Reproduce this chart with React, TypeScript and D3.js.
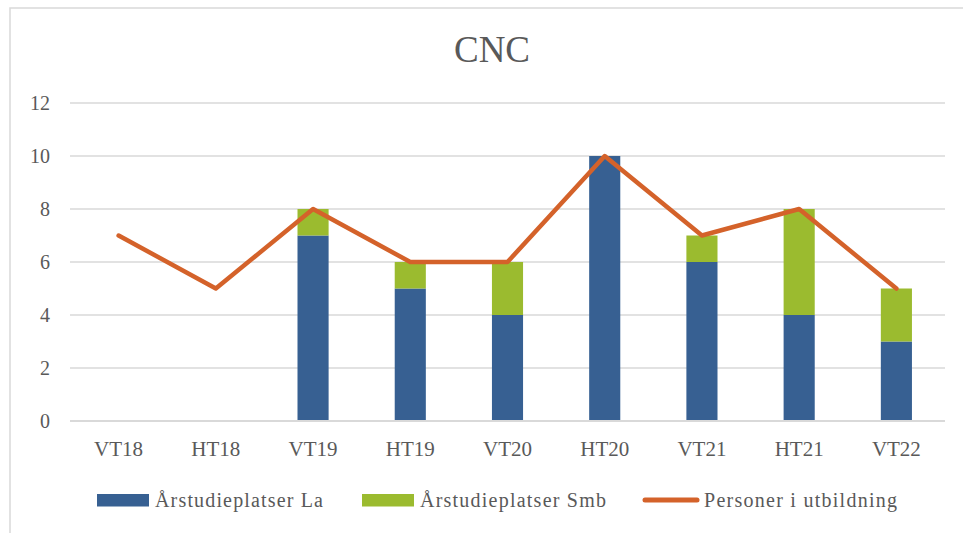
import * as d3 from "d3";

const categories = ["VT18", "HT18", "VT19", "HT19", "VT20", "HT20", "VT21", "HT21", "VT22"];
const laValues = [0, 0, 7, 5, 4, 10, 6, 4, 3];
const smbValues = [0, 0, 1, 1, 2, 0, 1, 4, 2];
const personerValues = [7, 5, 8, 6, 6, 10, 7, 8, 5];
const yTicks = [0, 2, 4, 6, 8, 10, 12];

const W = 963;
const H = 533;
const left = 70;
const right = 945;
const top = 103;
const bottom = 421;

const BLUE = "#376092";
const GREEN = "#9BBB2F";
const ORANGE = "#D4622A";
const TEXT = "#595959";
const GRID = "#D9D9D9";
const FONT = "'Liberation Serif', 'Times New Roman', serif";

export default function App() {
  const x = d3.scaleBand<string>().domain(categories).range([left, right]).paddingInner(0.68).paddingOuter(0.34);
  const y = d3.scaleLinear().domain([0, 12]).range([bottom, top]);
  const cx = (c: string) => (x(c) ?? 0) + x.bandwidth() / 2;

  const line = d3
    .line<number>()
    .x((_, i) => cx(categories[i]))
    .y((d) => y(d));

  return (
    <svg
      width={W}
      height={H}
      style={{ position: "absolute", left: 0, top: 0, background: "#fff" }}
      fontFamily={FONT}
    >
      <rect x={10} y={8} width={W + 20} height={H + 20} fill="#fff" stroke={GRID} strokeWidth={1.5} />
      <text x={492} y={62} textAnchor="middle" fontSize={37} fill={TEXT}>
        CNC
      </text>

      {yTicks.map((t) => (
        <g key={t}>
          {t > 0 && <line x1={left} x2={right} y1={y(t)} y2={y(t)} stroke={GRID} strokeWidth={1.5} />}
          <text x={50} y={y(t)} dy="0.35em" textAnchor="end" fontSize={20} fill={TEXT}>
            {t}
          </text>
        </g>
      ))}

      {categories.map((c, i) => (
        <g key={c}>
          {laValues[i] > 0 && (
            <rect x={x(c)} y={y(laValues[i])} width={x.bandwidth()} height={y(0) - y(laValues[i])} fill={BLUE} />
          )}
          {smbValues[i] > 0 && (
            <rect
              x={x(c)}
              y={y(laValues[i] + smbValues[i])}
              width={x.bandwidth()}
              height={y(laValues[i]) - y(laValues[i] + smbValues[i])}
              fill={GREEN}
            />
          )}
          <text x={cx(c)} y={456} textAnchor="middle" fontSize={21} fill={TEXT}>
            {c}
          </text>
        </g>
      ))}

      <line x1={left} x2={right} y1={y(0)} y2={y(0)} stroke={GRID} strokeWidth={2} />

      <path
        d={line(personerValues) ?? ""}
        fill="none"
        stroke={ORANGE}
        strokeWidth={4.5}
        strokeLinecap="round"
        strokeLinejoin="round"
      />

      <g fontSize={20} fill={TEXT}>
        <rect x={97} y={494} width={52} height={12.5} fill={BLUE} />
        <text x={155} y={507} textLength={168} lengthAdjust="spacing">Årstudieplatser La</text>
        <rect x={362} y={494} width={52} height={12.5} fill={GREEN} />
        <text x={420} y={507} textLength={186} lengthAdjust="spacing">Årstudieplatser Smb</text>
        <line x1={645} x2={697} y1={500} y2={500} stroke={ORANGE} strokeWidth={5} strokeLinecap="round" />
        <text x={704} y={507} textLength={193} lengthAdjust="spacing">Personer i utbildning</text>
      </g>
    </svg>
  );
}
